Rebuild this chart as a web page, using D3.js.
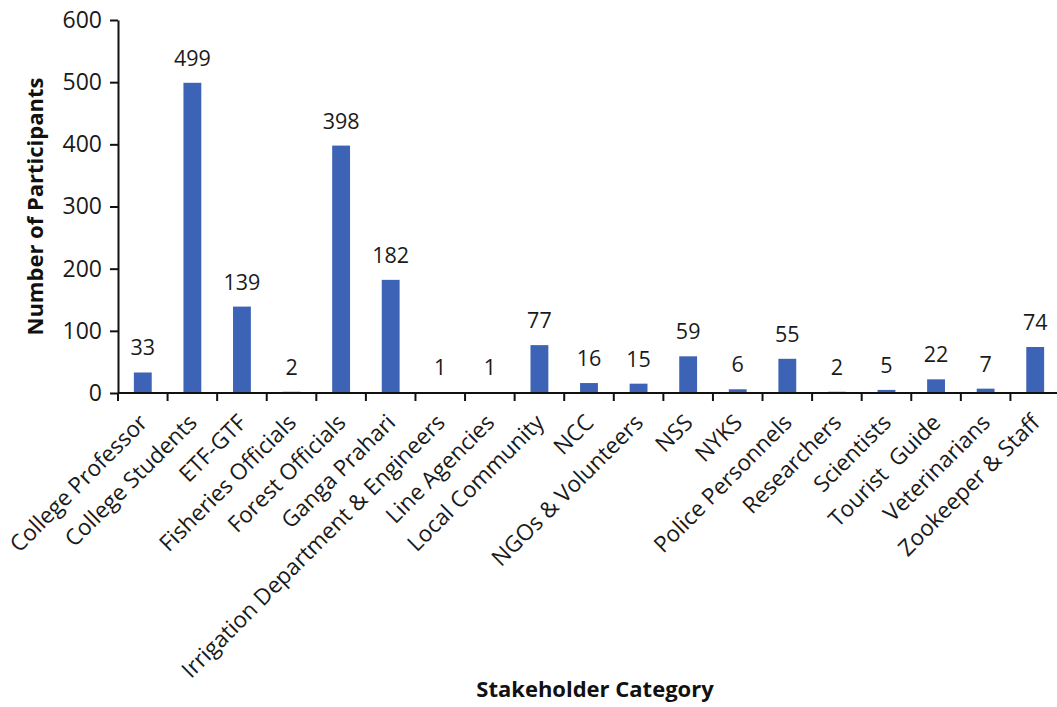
<!DOCTYPE html>
<html>
<head>
<meta charset="utf-8">
<script src="https://cdn.jsdelivr.net/npm/d3@7"></script>
<style>
  body { margin: 0; background: #fff; }
  svg { display: block; }
</style>
</head>
<body>
<svg id="chart" width="1057" height="707"></svg>
<script>
const categories = [
  "College Professor", "College Students", "ETF-GTF", "Fisheries Officials",
  "Forest Officials", "Ganga Prahari", "Irrigation Department & Engineers",
  "Line Agencies", "Local Community", "NCC", "NGOs & Volunteers", "NSS",
  "NYKS", "Police Personnels", "Researchers", "Scientists", "Tourist  Guide",
  "Veterinarians", "Zookeeper & Staff"
];
const values = [33, 499, 139, 2, 398, 182, 1, 1, 77, 16, 15, 59, 6, 55, 2, 5, 22, 7, 74];
const yTicks = [0, 100, 200, 300, 400, 500, 600];
const xTitle = "Stakeholder Category";
const yTitle = "Number of Participants";

(function () {
const svg = d3.select("#chart");
const mLeft = 118, mRight = 1060, mTop = 20, mBottom = 393;

const x = d3.scaleBand().domain(categories).range([mLeft, mRight]).paddingInner(0.64).paddingOuter(0.32);
const xb = d3.scaleBand().domain(categories).range([mLeft, mRight]);
const y = d3.scaleLinear().domain([0, 600]).range([mBottom, mTop]);

const font = "'Open Sans', 'Noto Sans', sans-serif";

// bars
svg.append("g").selectAll("rect").data(values).join("rect")
  .attr("x", (d, i) => x(categories[i]))
  .attr("y", d => y(d))
  .attr("width", x.bandwidth())
  .attr("height", d => y(0) - y(d))
  .attr("fill", "#3D63B6");

// value labels
svg.append("g").selectAll("text").data(values).join("text")
  .attr("x", (d, i) => xb(categories[i]) + xb.bandwidth() / 2)
  .attr("y", d => y(d) - 17)
  .attr("text-anchor", "middle")
  .attr("font-family", font)
  .attr("font-size", 21.5)
  .attr("fill", "#1a1a1a")
  .text(d => d);

// y axis
const yAxis = svg.append("g").attr("transform", `translate(${mLeft},0)`)
  .call(d3.axisLeft(y).tickValues(yTicks).tickSize(8).tickPadding(8).tickSizeOuter(0));
yAxis.select(".domain").attr("stroke", "#111").attr("stroke-width", 2);
yAxis.selectAll(".tick line").attr("stroke", "#111").attr("stroke-width", 2);
yAxis.selectAll(".tick text").attr("font-family", font).attr("font-size", 23).attr("fill", "#1a1a1a");

// x axis: ticks at category boundaries
const xAxisG = svg.append("g").attr("transform", `translate(0,${mBottom})`);
xAxisG.append("line").attr("x1", mLeft).attr("x2", mRight).attr("stroke", "#111").attr("stroke-width", 2);
const boundaries = categories.map(c => xb(c)).concat([mRight]);
xAxisG.selectAll("line.tk").data(boundaries).join("line").attr("class", "tk")
  .attr("x1", d => d).attr("x2", d => d).attr("y1", 0).attr("y2", 8)
  .attr("stroke", "#111").attr("stroke-width", 2);
xAxisG.selectAll("text").data(categories).join("text")
  .attr("transform", c => `translate(${xb(c) + xb.bandwidth() / 2 + 6},${31}) rotate(-45)`)
  .attr("text-anchor", "end")
  .attr("font-family", font)
  .attr("font-size", 22.5)
  .attr("fill", "#1a1a1a")
  .style("white-space", "pre")
  .text(c => c);

// titles
svg.append("text")
  .attr("x", 595).attr("y", 697)
  .attr("text-anchor", "middle")
  .attr("font-family", font).attr("font-weight", "bold").attr("font-size", 22).attr("fill", "#111")
  .text(xTitle);
svg.append("text")
  .attr("transform", `translate(43,${(mTop + mBottom) / 2}) rotate(-90)`)
  .attr("text-anchor", "middle")
  .attr("font-family", font).attr("font-weight", "bold").attr("font-size", 22).attr("fill", "#111")
  .text(yTitle);
})();
</script>
</body>
</html>
